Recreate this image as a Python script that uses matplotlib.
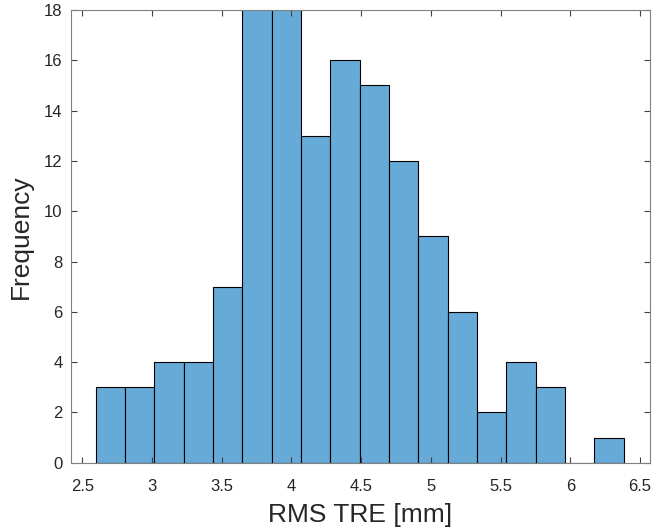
import matplotlib
matplotlib.use("Agg")
import matplotlib.pyplot as plt
import numpy as np

plt.rcParams['font.family'] = ['Liberation Sans', 'DejaVu Sans']

bin_start = 2.597
bin_width = 0.2104
counts = [3, 3, 4, 4, 7, 20, 19, 13, 16, 15, 12, 9, 6, 2, 4, 3, 0, 1]
xticks = [2.5, 3, 3.5, 4, 4.5, 5, 5.5, 6, 6.5]
xticklabels = ["2.5", "3", "3.5", "4", "4.5", "5", "5.5", "6", "6.5"]
yticks = [0, 2, 4, 6, 8, 10, 12, 14, 16, 18]
xlabel = "RMS TRE [mm]"
ylabel = "Frequency"

edges = bin_start + bin_width * np.arange(len(counts) + 1)

fig = plt.figure(figsize=(6.54, 5.31), dpi=100)
ax = fig.add_axes([71/654, 68.3/531, 579/654, 452.7/531])

ax.bar(edges[:-1], counts, width=bin_width, align='edge',
       color='#66AAD7', edgecolor='black', linewidth=0.8)

ax.set_xlim(2.419, 6.572)
ax.set_ylim(0, 18)
ax.set_xticks(xticks)
ax.set_xticklabels(xticklabels)
ax.set_yticks(yticks)

gray = '#262626'
for s in ax.spines.values():
    s.set_color('#808080')
    s.set_linewidth(0.8)
ax.tick_params(direction='in', top=True, right=True, length=4, width=0.8,
               color='#404040', labelsize=12, labelcolor=gray)
ax.tick_params(axis='x', pad=12)
ax.tick_params(axis='y', pad=6)

ax.set_xlabel(xlabel, fontsize=19, color=gray, labelpad=6)
ax.set_ylabel(ylabel, fontsize=19, color=gray, labelpad=8)

fig.savefig("out.png", dpi=100)
